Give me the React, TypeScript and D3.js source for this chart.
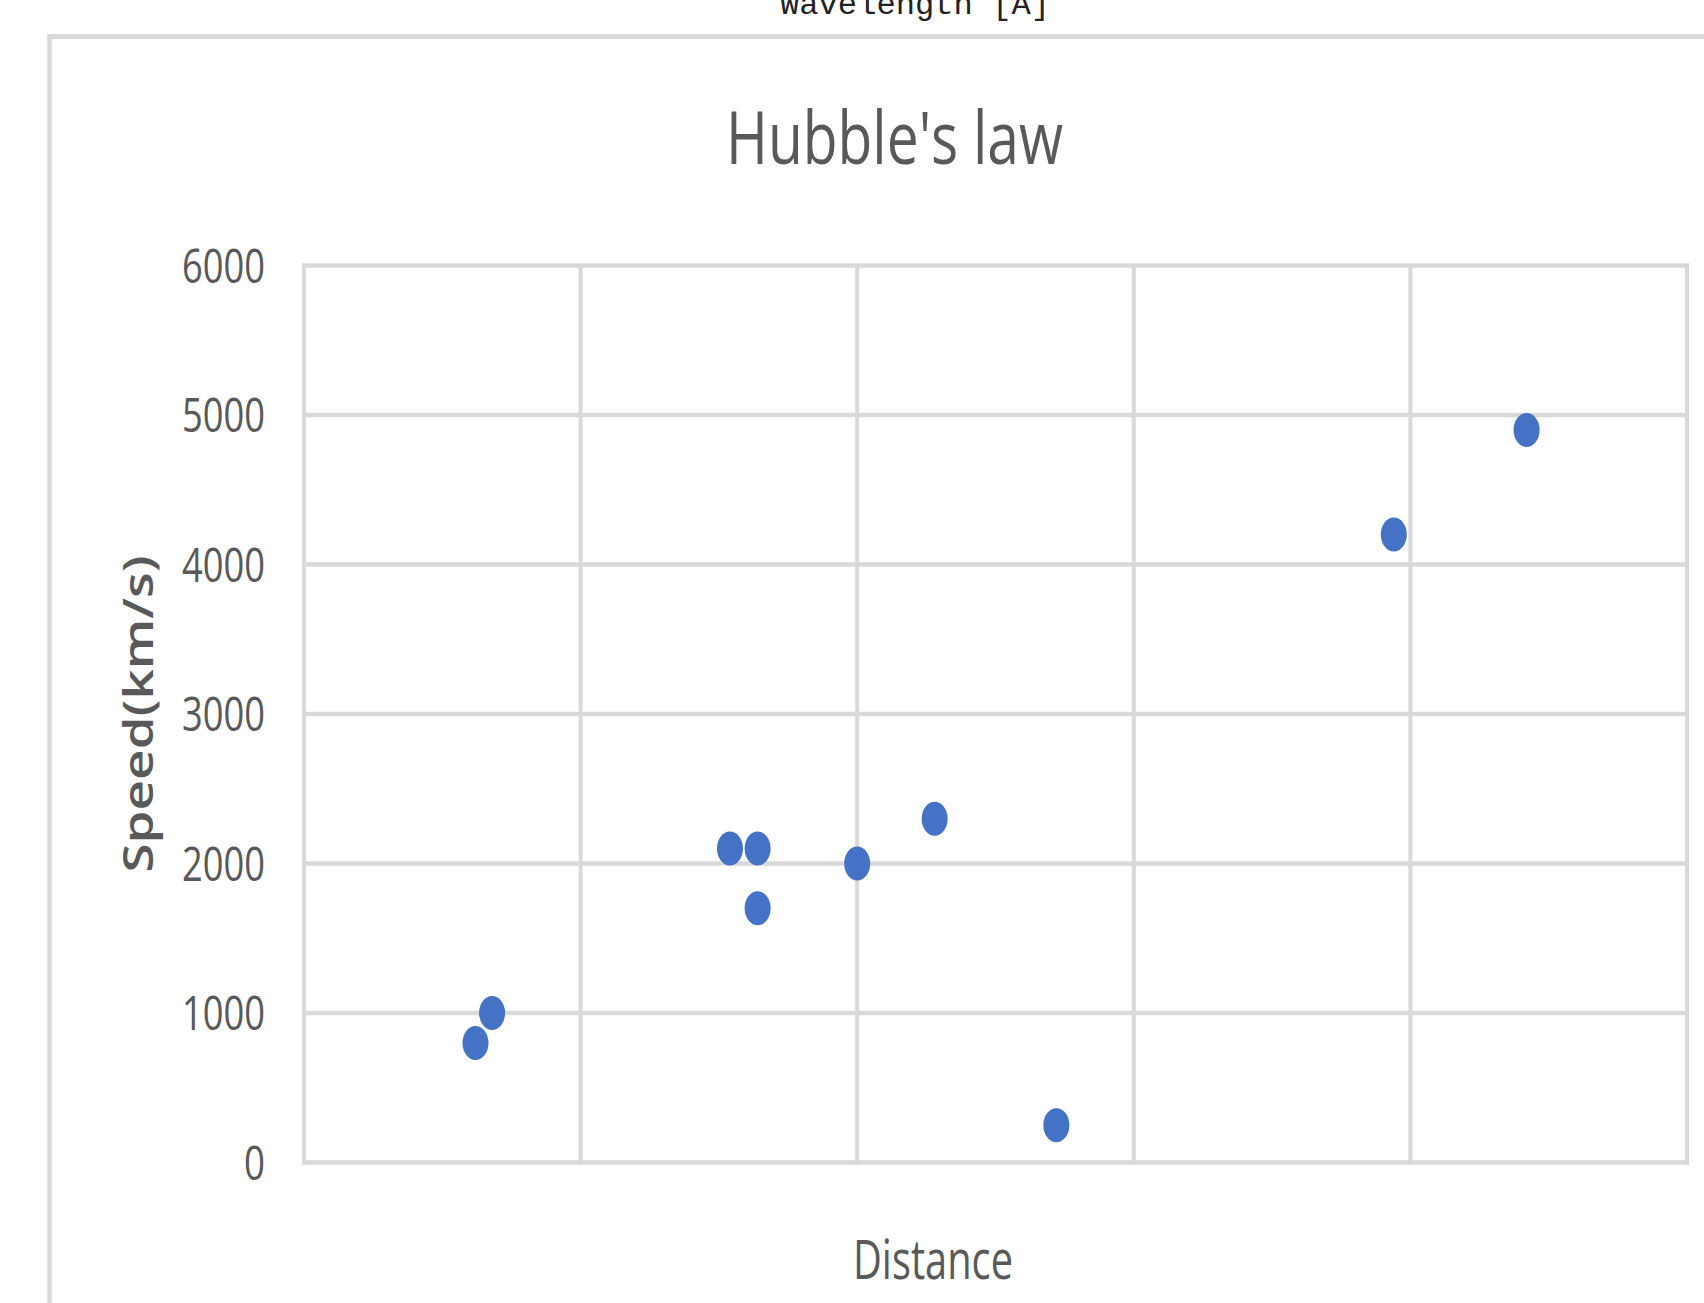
import React from "react";
import * as d3 from "d3";

const distances = [6.2, 6.8, 15.4, 16.4, 16.4, 20.0, 22.8, 27.2, 39.4, 44.2];
const speeds = [800, 1000, 2100, 2100, 1700, 2000, 2300, 250, 4200, 4900];
const yTicks = [0, 1000, 2000, 3000, 4000, 5000, 6000];
const xTicks = [0, 10, 20, 30, 40, 50];
const chartTitle = "Hubble's law";
const xTitle = "Distance";
const yTitle = "Speed(km/s)";
const topCutLabel = "Wavelength [Å]";

const W = 1704;
const H = 1303;
const plot = { left: 304, right: 1687, top: 265.5, bottom: 1162.5 };
const GRID = "#d9d9d9";
const TEXT = "#595959";
const FONT = "'Open Sans', 'Noto Sans', sans-serif";

export default function App() {
  const x = d3.scaleLinear().domain([0, 50]).range([plot.left, plot.right]);
  const y = d3.scaleLinear().domain([0, 6000]).range([plot.bottom, plot.top]);
  const points = distances.map((d, i) => ({ d, s: speeds[i] }));

  const labelWidth = (t: string) => (t.length === 1 ? 21 : 83);

  return (
    <svg
      width={W}
      height={H}
      viewBox={`0 0 ${W} ${H}`}
      style={{ position: "absolute", left: 0, top: 0, display: "block", background: "#fff" }}
    >
      <rect x={0} y={0} width={W} height={H} fill="#fff" />
      {/* cropped label from above */}
      <text
        x={915}
        y={14}
        textAnchor="middle"
        fontFamily="'Liberation Mono', 'DejaVu Sans Mono', monospace"
        fontSize={31}
        fill="#222"
        textLength={270}
        lengthAdjust="spacingAndGlyphs"
      >
        {topCutLabel}
      </text>
      {/* chart area border */}
      <line x1={49.5} y1={36.5} x2={W + 10} y2={36.5} stroke={GRID} strokeWidth={5} />
      <line x1={49.5} y1={34} x2={49.5} y2={H + 10} stroke={GRID} strokeWidth={4.5} />

      {/* title */}
      <text
        x={894.5}
        y={164}
        textAnchor="middle"
        fontFamily={FONT}
        fontSize={73}
        fill={TEXT}
        textLength={337}
        lengthAdjust="spacingAndGlyphs"
      >
        {chartTitle}
      </text>

      {/* gridlines */}
      {yTicks.map((t) => (
        <line
          key={"h" + t}
          x1={plot.left - 2}
          x2={plot.right + 2}
          y1={y(t)}
          y2={y(t)}
          stroke={GRID}
          strokeWidth={4.5}
        />
      ))}
      {xTicks.map((t) => (
        <line
          key={"v" + t}
          x1={x(t)}
          x2={x(t)}
          y1={plot.top}
          y2={plot.bottom + 2}
          stroke={GRID}
          strokeWidth={4}
        />
      ))}

      {/* y tick labels */}
      {yTicks.map((t) => (
        <text
          key={"yl" + t}
          x={265}
          y={y(t) + 17}
          textAnchor="end"
          fontFamily={FONT}
          fontSize={47.5}
          fill={TEXT}
          textLength={labelWidth(String(t))}
          lengthAdjust="spacingAndGlyphs"
        >
          {t}
        </text>
      ))}

      {/* y axis title */}
      <text
        transform={`translate(153, ${(plot.top + plot.bottom) / 2}) rotate(-90)`}
        textAnchor="middle"
        fontFamily={FONT}
        fontSize={42}
        fontWeight={600}
        fill={TEXT}
        textLength={317}
        lengthAdjust="spacingAndGlyphs"
      >
        {yTitle}
      </text>

      {/* x axis title */}
      <text
        x={933}
        y={1279}
        textAnchor="middle"
        fontFamily={FONT}
        fontSize={54.6}
        fill={TEXT}
        textLength={160}
        lengthAdjust="spacingAndGlyphs"
      >
        {xTitle}
      </text>

      {/* points */}
      {points.map((p, i) => (
        <ellipse key={"p" + i} cx={x(p.d)} cy={y(p.s)} rx={13} ry={17} fill="#4472C4" />
      ))}
    </svg>
  );
}
